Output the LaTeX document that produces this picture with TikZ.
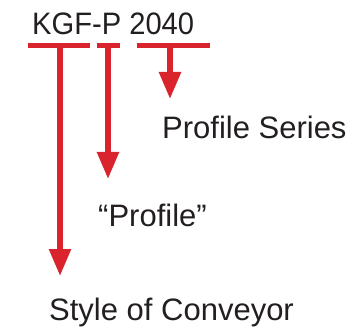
\documentclass[tikz,border=0pt]{standalone}
\usepackage{fontspec}
\setmainfont{Liberation Sans}
\usetikzlibrary{arrows.meta}
\definecolor{kred}{HTML}{D9232D}
\definecolor{ktext}{HTML}{231F20}
\begin{document}
\begin{tikzpicture}[x=1pt,y=-1pt,
  lbl/.style={anchor=base west,inner sep=0pt,text=ktext,font=\fontsize{31}{36}\selectfont},
  bar/.style={draw=kred,line width=5pt},
  pointer/.style={draw=kred,line width=5.5pt,-{Triangle[width=21pt,length=27pt]}}]
\useasboundingbox (0,0) rectangle (354,329);
\node[lbl] (title) at (32,34.5) {\addfontfeatures{FakeStretch=0.94}KGF-P 2040};
\node[lbl] (series) at (162,139) {Profile Series};
\node[lbl] (profile) at (98,226) {“Profile”};
\node[lbl] (style) at (49,320) {Style of Conveyor};
% bars
\coordinate (b1l) at (28,45.5); \coordinate (b1r) at (90,45.5);
\coordinate (b2l) at (97,45.5); \coordinate (b2r) at (120,45.5);
\coordinate (b3l) at (137,45.5); \coordinate (b3r) at (210,45.5);
\draw[bar] (b1l) -- (b1r);
\draw[bar] (b2l) -- (b2r);
\draw[bar] (b3l) -- (b3r);
% arrows
\coordinate (a1s) at (60,45.5); \coordinate (a1e) at (60,276);
\coordinate (a2s) at (108,45.5); \coordinate (a2e) at (108,179);
\coordinate (a3s) at (170,45.5); \coordinate (a3e) at (170,99);
\draw[pointer] (a1s) -- (a1e);
\draw[pointer] (a2s) -- (a2e);
\draw[pointer] (a3s) -- (a3e);
\end{tikzpicture}
\end{document}
